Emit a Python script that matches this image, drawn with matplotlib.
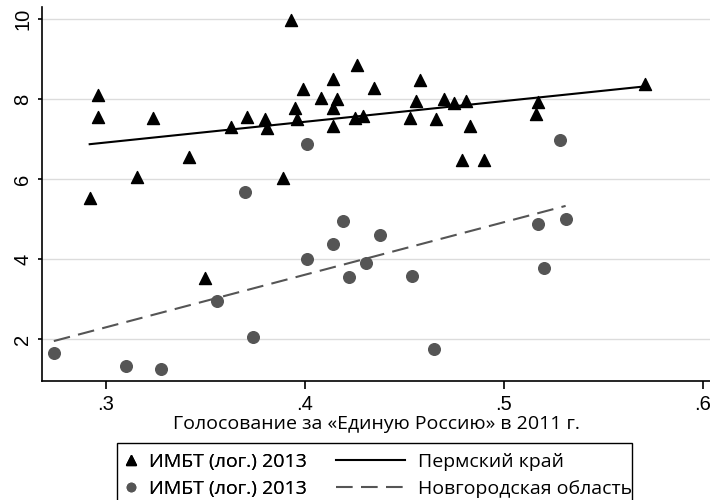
import matplotlib
matplotlib.use("Agg")
import matplotlib.pyplot as plt
import numpy as np
from matplotlib.lines import Line2D
from matplotlib.patches import Rectangle

# Пермский край
perm_x = [0.292, 0.296, 0.296, 0.324, 0.316, 0.342, 0.350, 0.363, 0.371, 0.380,
          0.381, 0.389, 0.393, 0.395, 0.396, 0.399, 0.408, 0.414, 0.414, 0.416,
          0.414, 0.426, 0.425, 0.429, 0.435, 0.453, 0.456, 0.458, 0.466, 0.470,
          0.475, 0.481, 0.483, 0.479, 0.490, 0.517, 0.516, 0.571]
perm_y = [5.52, 8.10, 7.56, 7.53, 6.04, 6.56, 3.52, 7.31, 7.54, 7.51,
          7.27, 6.02, 9.97, 7.78, 7.50, 8.24, 8.02, 8.49, 7.78, 8.01,
          7.33, 8.85, 7.52, 7.58, 8.28, 7.52, 7.96, 8.48, 7.50, 8.00,
          7.89, 7.96, 7.33, 6.47, 6.47, 7.93, 7.62, 8.37]

# Новгородская область
novg_x = [0.274, 0.310, 0.328, 0.356, 0.374, 0.370, 0.401, 0.401, 0.414, 0.419,
          0.422, 0.431, 0.438, 0.454, 0.465, 0.517, 0.520, 0.531, 0.528]
novg_y = [1.64, 1.33, 1.24, 2.96, 2.04, 5.68, 6.88, 4.00, 4.38, 4.96,
          3.54, 3.90, 4.61, 3.58, 1.76, 4.88, 3.78, 5.01, 6.97]

x_ticks = [0.3, 0.4, 0.5, 0.6]
x_tick_labels = [".3", ".4", ".5", ".6"]
y_ticks = [2, 4, 6, 8, 10]

xlabel = "Голосование за «Единую Россию» в 2011 г."
marker_label = "ИМБТ (лог.) 2013"
line_labels = ["Пермский край", "Новгородская область"]

plt.rcParams["font.family"] = ["Liberation Sans", "DejaVu Sans"]
text_font = ["Open Sans", "DejaVu Sans"]

fig = plt.figure(figsize=(7.1, 5.0), dpi=100)
ax = fig.add_axes([0.059, 0.238, 0.941, 0.748])

for t in y_ticks:
    ax.axhline(t, color="#dcdcdc", lw=1.0, zorder=0)

gray = "#555555"
dash = (0, (8, 4))
ax.scatter(perm_x, perm_y, marker="^", s=75, color="black", zorder=3)
ax.scatter(novg_x, novg_y, marker="o", s=70, color=gray, zorder=3)

# linear fits over each region's range
for xs, ys, style, col in [(perm_x, perm_y, "-", "black"), (novg_x, novg_y, dash, gray)]:
    k, b = np.polyfit(xs, ys, 1)
    xx = np.array([min(xs), max(xs)])
    ax.plot(xx, k * xx + b, linestyle=style, color=col, lw=1.5, zorder=2)

ax.set_xlim(0.268, 0.6035)
ax.set_ylim(0.95, 10.3)
ax.set_xticks(x_ticks)
ax.set_xticklabels(x_tick_labels, fontsize=14.5)
ax.set_yticks(y_ticks)
ax.set_yticklabels([str(t) for t in y_ticks], fontsize=14.5, rotation=90, va="center")
ax.tick_params(axis="x", length=6, width=1.2, pad=4)
ax.tick_params(axis="y", length=3, width=1.2, pad=4)
for s in ["top", "right"]:
    ax.spines[s].set_visible(False)
for s in ["left", "bottom"]:
    ax.spines[s].set_linewidth(1.2)
ax.set_xlabel(xlabel, fontsize=14, family=text_font, labelpad=1)

# legend: marker column and line column inside one frame
marker_handles = [
    Line2D([], [], marker="^", color="black", ls="none", markersize=7),
    Line2D([], [], marker="o", color=gray, ls="none", markersize=6),
]
line_handles = [
    Line2D([], [], color="black", lw=1.5),
    Line2D([], [], color=gray, lw=1.5, ls=dash),
]
common = dict(loc="upper left", frameon=False, borderpad=0, borderaxespad=0,
              labelspacing=0.45, prop={"family": text_font, "size": 14})
leg1 = fig.legend(marker_handles, [marker_label, marker_label],
                  bbox_to_anchor=(0.173, 0.094), handlelength=0.8,
                  handletextpad=0.57, **common)
leg2 = fig.legend(line_handles, line_labels,
                  bbox_to_anchor=(0.473, 0.094), handlelength=3.55,
                  handletextpad=0.67, **common)
fig.add_artist(leg1)
fig.patches.append(Rectangle((117 / 710, -0.05), (632 - 117) / 710, 57 / 500 + 0.05,
                             transform=fig.transFigure, fill=False,
                             edgecolor="black", lw=1.0))

fig.savefig("out.png", dpi=100)
